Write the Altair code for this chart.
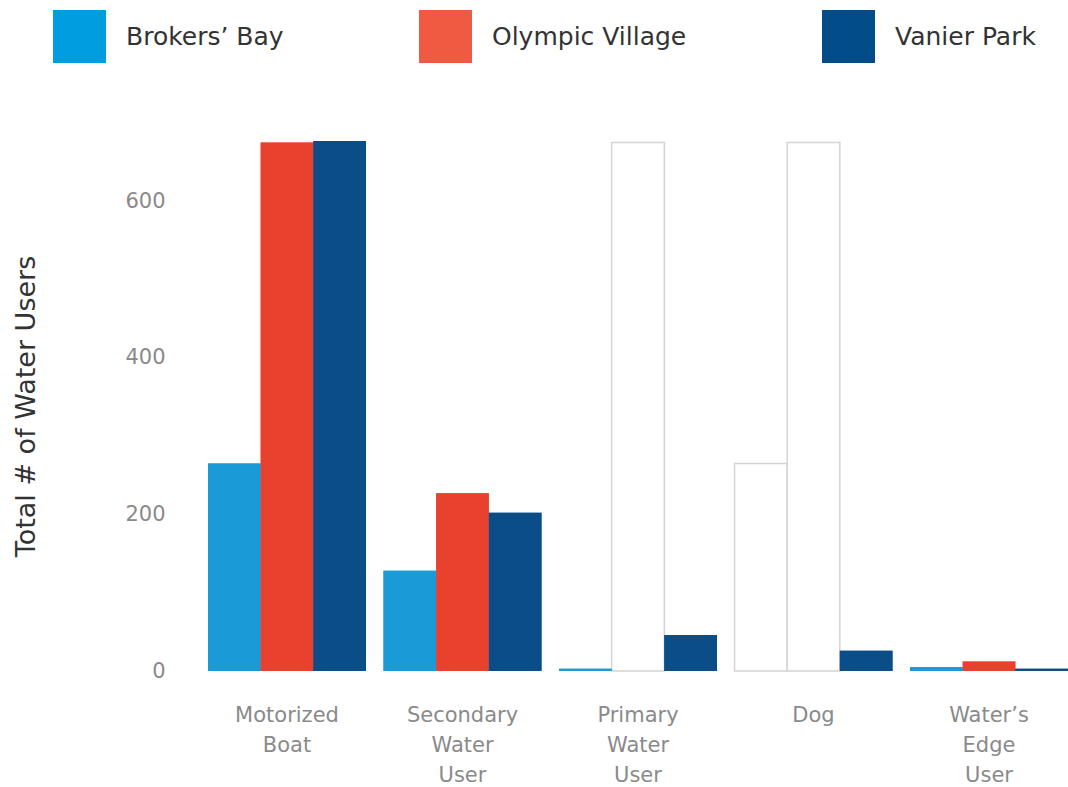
import altair as alt
import pandas as pd

categories = ["Motorized Boat", "Secondary Water User", "Primary Water User", "Dog", "Water’s Edge User"]
series = ["Brokers’ Bay", "Olympic Village", "Vanier Park"]
brokers_bay = [265, 128, 3, 0, 5]
olympic_village = [675, 227, 0, 0, 12]
vanier_park = [677, 202, 46, 26, 3]

# faint outlined "ghost" bars visible in the reference
ghost_category = ["Primary Water User", "Dog", "Dog"]
ghost_series = ["Olympic Village", "Brokers’ Bay", "Olympic Village"]
ghost_value = [675, 265, 675]

legend_colors = ["#009ee0", "#f15a42", "#024c8a"]
bar_colors = ["#1a9ad6", "#e8412e", "#0b4d86"]

rows = []
for s, vals in zip(series, [brokers_bay, olympic_village, vanier_park]):
    for c, v in zip(categories, vals):
        rows.append({"category": c, "series": s, "value": v})
df = pd.DataFrame(rows)
ghost_df = pd.DataFrame({"category": ghost_category, "series": ghost_series, "value": ghost_value})

FONT = "DejaVu Sans"

x_enc = alt.X(
    "category:N",
    sort=categories,
    scale=alt.Scale(paddingInner=0.1, paddingOuter=0),
    axis=alt.Axis(
        title=None, labelAngle=0, labelExpr="split(datum.label, ' ')",
        labelFontSize=21, labelColor="#8a8a8a", labelFont=FONT,
        labelPadding=33, labelLineHeight=30, labelBaseline="top",
        domain=False, ticks=False, labelOverlap=False, labelLimit=300,
    ),
)
xoff = alt.XOffset("series:N", sort=series, scale=alt.Scale(domain=series, paddingInner=0, paddingOuter=0))
y_enc = alt.Y(
    "value:Q",
    scale=alt.Scale(domain=[0, 700], nice=False),
    axis=alt.Axis(
        title="Total # of Water Users", values=[0, 200, 400, 600],
        grid=False, domain=False, ticks=False,
        labelFontSize=21, labelColor="#8a8a8a", labelFont=FONT, labelPadding=43,
        titleFontSize=27, titleFont=FONT, titleColor="#333333", titleFontWeight="normal",
        titleX=-174, titleY=283, titleAngle=-90, titleAlign="center", titleBaseline="alphabetic",
    ),
)

ghost = alt.Chart(ghost_df).mark_bar(fill="white", stroke="#d4d4d4", strokeWidth=1.5).encode(
    x=x_enc, xOffset=xoff, y=y_enc
)

legend_layer = alt.Chart(df).mark_bar().encode(
    x=x_enc, xOffset=xoff, y=y_enc,
    color=alt.Color(
        "series:N", sort=series,
        scale=alt.Scale(domain=series, range=legend_colors),
        legend=alt.Legend(
            title=None, orient="none", direction="horizontal",
            legendX=-155, legendY=-113,
            symbolType="square", symbolSize=2809, symbolStrokeWidth=0, symbolOpacity=1,
            labelFontSize=25, labelFont=FONT, labelColor="#333333",
            labelOffset=20, columnPadding=135, labelLimit=400,
        ),
    ),
)

bars = alt.Chart(df).mark_bar().encode(
    x=x_enc, xOffset=xoff, y=y_enc,
    color=alt.Color("series:N", sort=series, scale=alt.Scale(domain=series, range=bar_colors), legend=None),
)

chart = (
    alt.layer(ghost, legend_layer, bars)
    .resolve_scale(color="independent")
    .properties(
        width=860, height=548,
        autosize=alt.AutoSizeParams(type="none"),
        padding={"left": 208, "top": 123, "right": 0, "bottom": 116},
        view=alt.ViewBackground(stroke="transparent", strokeWidth=0),
    )
    .configure_view(strokeWidth=0, stroke="transparent")
    .configure(background="white", style={"cell": {"stroke": "transparent", "strokeWidth": 0}})
)

chart.save("out.html", embed_options={"renderer": "svg", "actions": False})
